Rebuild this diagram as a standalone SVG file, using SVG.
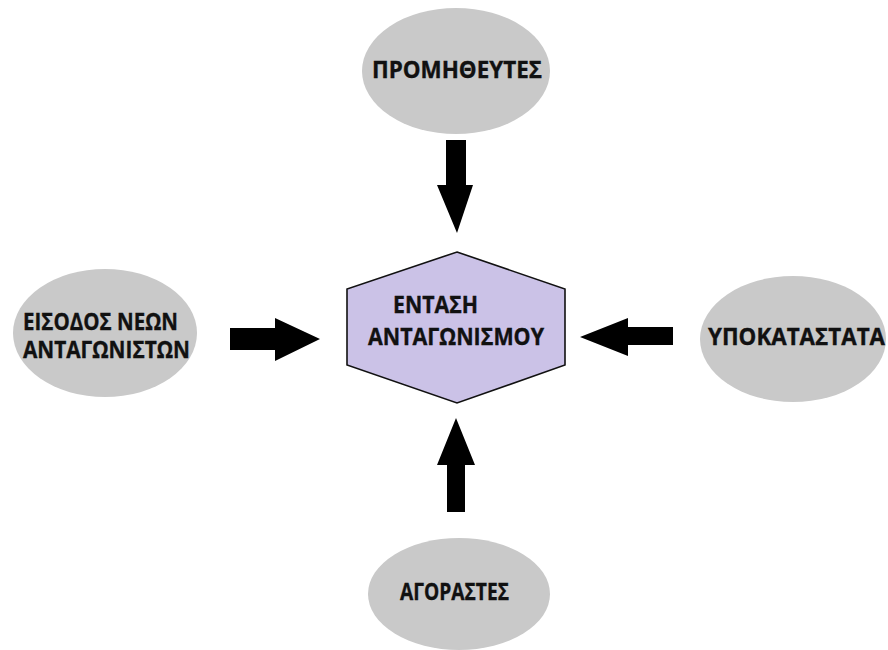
<svg xmlns="http://www.w3.org/2000/svg" width="888" height="650" viewBox="0 0 888 650">
<style>
.oval{fill:#c9c9c9;stroke:none}
.hex{fill:#cbc2e7;stroke:#111;stroke-width:1.6}
.lbl{font-family:"Open Sans","Liberation Sans",sans-serif;font-weight:bold;font-size:22.5px;fill:#111;stroke:#111;stroke-width:0.35}
.arr{fill:#000;stroke:none}
</style>
<rect width="888" height="650" fill="#fff"/>
<g id="connectors">
<path class="arr" d="M446,140 H466 V185 H473 L457,233 L437,185 H446 Z"/>
<path class="arr" d="M447,512 H465 V465 H475 L456,418 L437,465 H447 Z"/>
<path class="arr" d="M230,328 H275 V318 L320,339 L275,361 V350 H230 Z"/>
<path class="arr" d="M673,327 H628 V318 L580,337 L628,356 V345 H673 Z"/>
</g>
<g id="center">
<polygon class="hex" points="457,252 565,289 565,365 457,403 347,365 347,289"/>
<text class="lbl" x="393" y="313" textLength="85" lengthAdjust="spacingAndGlyphs">ΕΝΤΑΣΗ</text>
<text class="lbl" x="368" y="345" textLength="176" lengthAdjust="spacingAndGlyphs">ΑΝΤΑΓΩΝΙΣΜΟΥ</text>
</g>
<g id="suppliers">
<ellipse class="oval" cx="456" cy="71" rx="94" ry="63"/>
<text class="lbl" x="372" y="78" textLength="170" lengthAdjust="spacingAndGlyphs">ΠΡΟΜΗΘΕΥΤΕΣ</text>
</g>
<g id="buyers">
<ellipse class="oval" cx="459" cy="594" rx="91" ry="56"/>
<text class="lbl" x="400" y="600" textLength="109" lengthAdjust="spacingAndGlyphs">ΑΓΟΡΑΣΤΕΣ</text>
</g>
<g id="new-entrants">
<ellipse class="oval" cx="105" cy="333" rx="92" ry="64"/>
<text class="lbl" x="23" y="330" textLength="155" lengthAdjust="spacingAndGlyphs">ΕΙΣΟΔΟΣ ΝΕΩΝ</text>
<text class="lbl" x="23" y="358" textLength="167" lengthAdjust="spacingAndGlyphs">ΑΝΤΑΓΩΝΙΣΤΩΝ</text>
</g>
<g id="substitutes">
<ellipse class="oval" cx="793" cy="339" rx="93" ry="63"/>
<text class="lbl" x="708" y="345" textLength="177" lengthAdjust="spacingAndGlyphs">ΥΠΟΚΑΤΑΣΤΑΤΑ</text>
</g>
</svg>
